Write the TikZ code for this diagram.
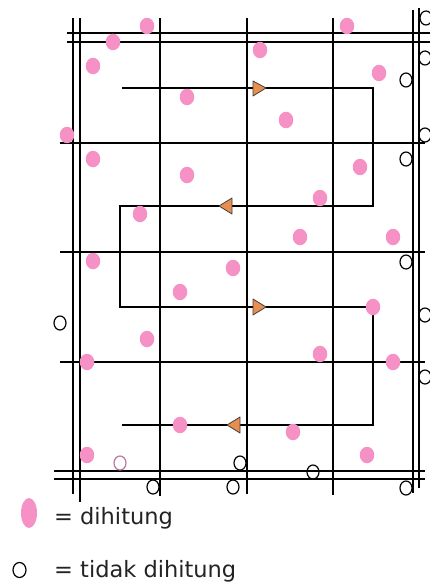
\documentclass[tikz,border=0pt]{standalone}
\usepackage{fontspec}
\setmainfont{DejaVu Sans}
\usetikzlibrary{shapes.geometric}
\definecolor{dotpink}{RGB}{245,145,196}
\definecolor{arroworange}{RGB}{232,142,80}
\definecolor{mauve}{RGB}{185,120,155}
\definecolor{txt}{RGB}{35,35,35}
\begin{document}
\begin{tikzpicture}[x=1pt,y=-1pt,
  grid/.style={line width=1.5pt,black},
  route/.style={line width=1.3pt,black},
  dot/.style={ellipse,fill=dotpink,minimum width=14.5pt,minimum height=16.5pt,inner sep=0pt},
  hole/.style={ellipse,draw=black,line width=1.2pt,minimum width=12pt,minimum height=14pt,inner sep=0pt},
  arr/.style={fill=arroworange,draw=black!75,line width=0.8pt,line join=round},
  legend/.style={anchor=base west,inner sep=0pt,text=txt,font=\fontsize{22.5}{27}\selectfont}]
\useasboundingbox (0,0) rectangle (430,583);
% grid verticals
\draw[grid] (73,18) -- (73,494);
\draw[grid] (80,18) -- (80,502);
\draw[grid] (160,18) -- (160,496);
\draw[grid] (247,18) -- (247,494);
\draw[grid] (333,18) -- (333,495);
\draw[grid] (413,10) -- (413,493);
\draw[grid] (419,8) -- (419,488);
% grid horizontals
\draw[grid] (67,33) -- (430,33);
\draw[grid] (67,42) -- (430,42);
\draw[grid] (60,143) -- (425,143);
\draw[grid] (60,252) -- (425,252);
\draw[grid] (60,362) -- (425,362);
\draw[grid] (54,471) -- (425,471);
\draw[grid] (54,479) -- (425,479);
% route
\coordinate (s) at (122,88);
\coordinate (c1) at (373,88);
\coordinate (c2) at (373,206);
\coordinate (c3) at (120,206);
\coordinate (c4) at (120,307);
\coordinate (c5) at (373,307);
\coordinate (c6) at (373,425);
\coordinate (e) at (122,425);
\draw[route] (s) -- (c1) -- (c2) -- (c3) -- (c4) -- (c5) -- (c6) -- (e);
% arrows
\filldraw[arr] (253,81) -- (266,88) -- (253,96) -- cycle;
\filldraw[arr] (232,198) -- (219,206) -- (232,214) -- cycle;
\filldraw[arr] (253,299) -- (266,307) -- (253,315) -- cycle;
\filldraw[arr] (240,417) -- (227,425) -- (240,433) -- cycle;
% counted dots
\node[dot] (d1) at (147,26) {};
\node[dot] (d2) at (113,42) {};
\node[dot] (d3) at (93,66) {};
\node[dot] (d4) at (187,97) {};
\node[dot] (d5) at (67,135) {};
\node[dot] (d6) at (260,50) {};
\node[dot] (d7) at (347,26) {};
\node[dot] (d8) at (379,73) {};
\node[dot] (d9) at (286,120) {};
\node[dot] (d10) at (93,159) {};
\node[dot] (d11) at (187,175) {};
\node[dot] (d12) at (140,214) {};
\node[dot] (d13) at (93,261) {};
\node[dot] (d14) at (180,292) {};
\node[dot] (d15) at (360,167) {};
\node[dot] (d16) at (320,198) {};
\node[dot] (d17) at (300,237) {};
\node[dot] (d18) at (393,237) {};
\node[dot] (d19) at (233,268) {};
\node[dot] (d20) at (147,339) {};
\node[dot] (d21) at (87,362) {};
\node[dot] (d22) at (180,425) {};
\node[dot] (d23) at (373,307) {};
\node[dot] (d24) at (320,354) {};
\node[dot] (d25) at (393,362) {};
\node[dot] (d26) at (293,432) {};
\node[dot] (d27) at (87,455) {};
\node[dot] (d28) at (367,455) {};
% not counted
\node[hole] (h1) at (426,18) {};
\node[hole] (h2) at (425,58) {};
\node[hole] (h3) at (406,80) {};
\node[hole] (h4) at (425,135) {};
\node[hole] (h5) at (406,159) {};
\node[hole] (h6) at (406,262) {};
\node[hole] (h7) at (60,323) {};
\node[hole] (h8) at (425,315) {};
\node[hole] (h9) at (425,377) {};
\node[hole,draw=mauve] (h10) at (120,463) {};
\node[hole] (h11) at (153,487) {};
\node[hole] (h12) at (240,463) {};
\node[hole] (h13) at (233,487) {};
\node[hole] (h14) at (313,472) {};
\node[hole] (h15) at (406,488) {};
% legend
\node[dot,minimum width=16pt,minimum height=30pt] (legdot) at (29,513) {};
\node[legend] (legtxt1) at (54,524) {= dihitung};
\node[hole,minimum width=13pt,minimum height=15pt] (leghole) at (19.5,570) {};
\node[legend] (legtxt2) at (54,577) {= tidak dihitung};
\end{tikzpicture}
\end{document}
